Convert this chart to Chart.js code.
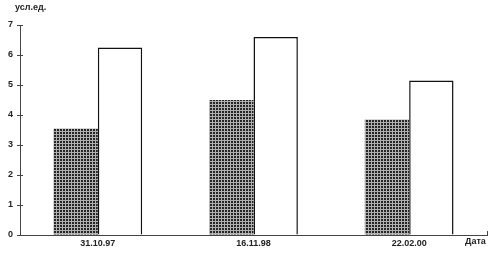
<!DOCTYPE html>
<html><head><meta charset="utf-8">
<script src="https://cdn.jsdelivr.net/npm/chart.js@4"></script>
<style>
html,body{margin:0;padding:0;background:#fff;}
#wrap{position:relative;width:500px;height:254px;}
.lbl{position:absolute;font-family:"Liberation Sans",Arial,sans-serif;font-weight:bold;font-size:9px;color:#222;white-space:nowrap;}
</style></head>
<body>
<div id="wrap">
<canvas id="c" width="500" height="254"></canvas>
<span class="lbl" style="left:15px;top:2px;">усл.ед.</span>
<span class="lbl" style="left:465px;top:236px;">Дата</span>
</div>
<script>
const categories = ["31.10.97", "16.11.98", "22.02.00"];
const seriesDark = [3.55, 4.5, 3.85];
const seriesWhite = [6.25, 6.6, 5.15];
const yTicks = [0, 1, 2, 3, 4, 5, 6, 7];

function makePattern(){
  const p = document.createElement('canvas');
  p.width = 3; p.height = 3;
  const g = p.getContext('2d');
  g.fillStyle = '#262626'; g.fillRect(0,0,3,3);
  g.fillStyle = '#b0b0b0'; g.fillRect(0,2,3,1); g.fillRect(2,0,1,3);
  return document.getElementById('c').getContext('2d').createPattern(p,'repeat');
}

const tickPlugin = {
  id:'innerTicks',
  afterDraw(chart){
    const ctx = chart.ctx, y = chart.scales.y, x = chart.scales.x;
    ctx.save();
    ctx.strokeStyle = '#444'; ctx.lineWidth = 1;
    yTicks.forEach(v=>{
      const py = Math.round(y.getPixelForValue(v))+0.5;
      ctx.beginPath(); ctx.moveTo(x.left, py); ctx.lineTo(x.left+3, py); ctx.stroke();
    });
    ctx.beginPath(); ctx.moveTo(x.right+0.5, y.bottom); ctx.lineTo(x.right+0.5, y.bottom-4); ctx.stroke();
    ctx.restore();
  }
};

new Chart(document.getElementById('c'), {
  type:'bar',
  data:{
    labels: categories,
    datasets:[
      {data: seriesDark, backgroundColor: makePattern(), borderColor:'#222', borderWidth:0},
      {data: seriesWhite, backgroundColor:'#fff', borderColor:'#111', borderWidth:1.5}
    ]
  },
  options:{
    responsive:false, animation:false,
    layout:{padding:{top:25, right:13, left:0, bottom:0}},
    plugins:{legend:{display:false}, tooltip:{enabled:false}},
    datasets:{bar:{barPercentage:1, categoryPercentage:0.57}},
    scales:{
      x:{
        grid:{display:false, drawTicks:false, tickLength:0},
        border:{display:true, color:'#444', width:1},
        ticks:{padding:3, color:'#222', font:{family:'"Liberation Sans", Arial, sans-serif', weight:'bold', size:9}},
        afterFit(s){ s.height = 19; }
      },
      y:{
        min:0, max:7,
        afterBuildTicks(s){ s.ticks = yTicks.map(v=>({value:v})); },
        grid:{display:true, drawOnChartArea:false, tickLength:3, color:'#444'},
        border:{display:true, color:'#444', width:1},
        ticks:{padding:4, color:'#222', font:{family:'"Liberation Sans", Arial, sans-serif', weight:'bold', size:9}},
        afterFit(s){ s.width = 20; }
      }
    }
  },
  plugins:[tickPlugin]
});
</script>
</body></html>
